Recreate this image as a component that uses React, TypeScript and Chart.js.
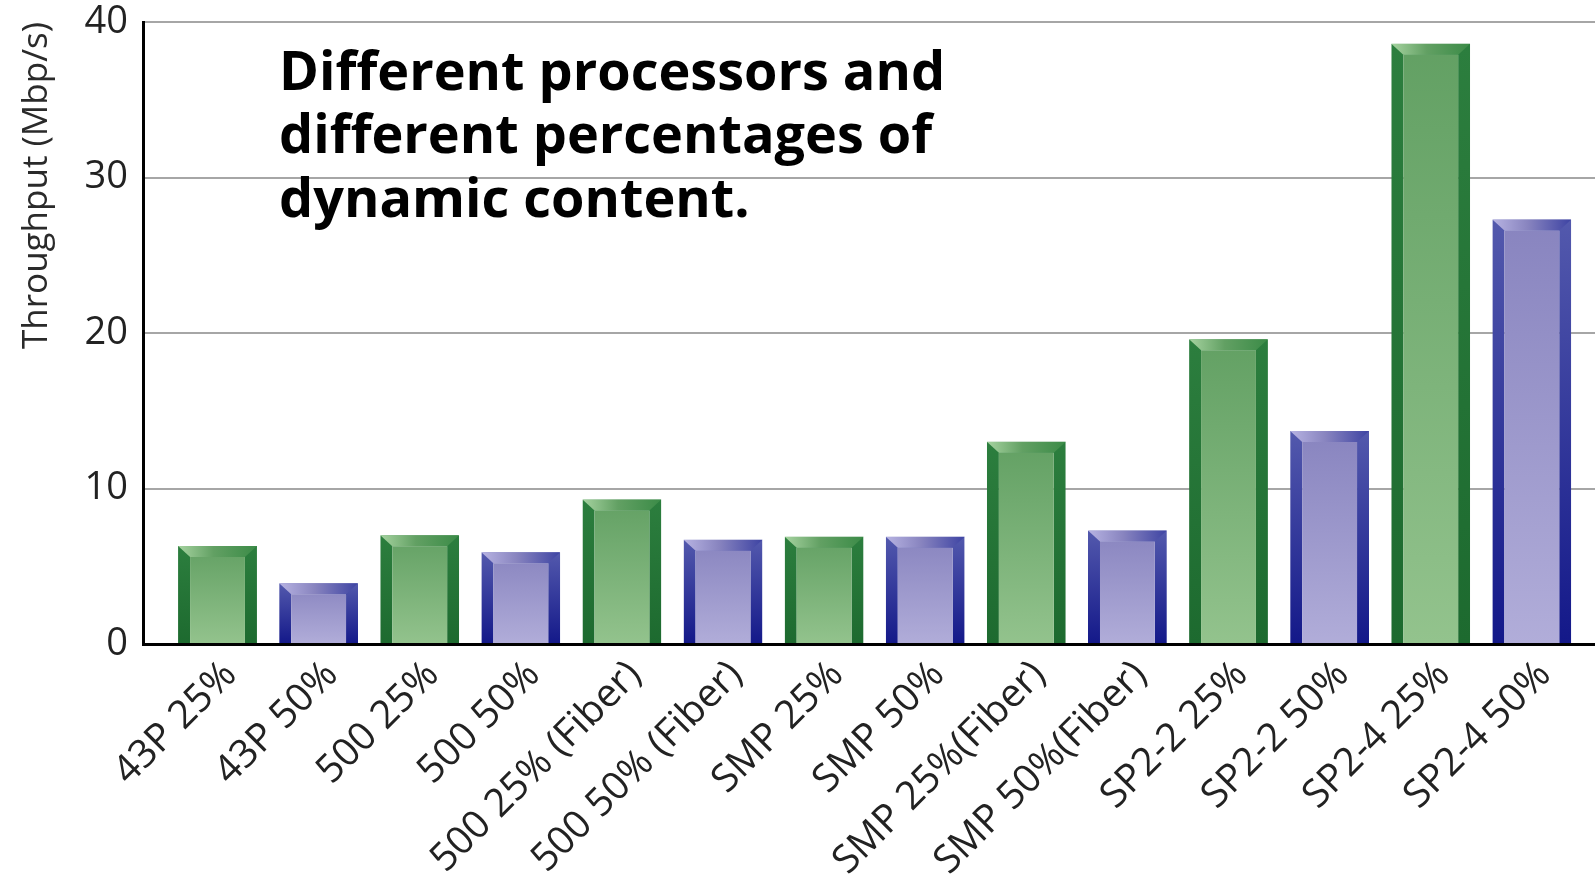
import React, { useEffect, useRef } from 'react';
import { Chart, registerables } from 'chart.js';

Chart.register(...registerables);

// ---- data ----
const categories = [
  '43P 25%', '43P 50%', '500 25%', '500 50%', '500 25% (Fiber)', '500 50% (Fiber)',
  'SMP 25%', 'SMP 50%', 'SMP 25%(Fiber)', 'SMP 50%(Fiber)',
  'SP2-2 25%', 'SP2-2 50%', 'SP2-4 25%', 'SP2-4 50%',
];
const throughput = [6.3, 3.9, 7.0, 5.9, 9.3, 6.7, 6.9, 6.9, 13.0, 7.3, 19.6, 13.7, 38.6, 27.3];
const yTickStep = 10;
const yMin = 0;
const yMax = 40;
const yAxisTitle = 'Throughput (Mbp/s)';
const titleLines = ['Different processors and', 'different percentages of', 'dynamic content.'];

// ---- styles ----
const W = 1595;
const H = 879;
const axisFont = '"Open Sans", "Liberation Sans", sans-serif';
const SIDE = 12;
const BEVEL = 11;

const greenPal = {
  sideTop: '#2c7e3e', sideBottom: '#1d6a2f',
  fillTop: '#62a063', fillBottom: '#93c38d',
  bevelLeft: '#a6d3a0', bevelRight: '#3b8b47',
};
const bluePal = {
  sideTop: '#5359ad', sideBottom: '#131889',
  fillTop: '#8884bf', fillBottom: '#b1add9',
  bevelLeft: '#b7b3e2', bevelRight: '#3d43a3',
};
const palFor = (i: number) => (categories[i] && categories[i].includes('25%') ? greenPal : bluePal);

function barGradient(ctx: any, kind: 'fill' | 'side') {
  const chart = ctx.chart;
  const i = ctx.dataIndex;
  if (i === undefined || !chart.chartArea || !chart.scales.y) {
    const p = palFor(i ?? 0);
    return kind === 'fill' ? p.fillBottom : p.sideBottom;
  }
  const p = palFor(i);
  const ys = chart.scales.y;
  const top = ys.getPixelForValue(throughput[i]);
  const bottom = ys.getPixelForValue(0);
  const g = chart.ctx.createLinearGradient(0, top, 0, bottom);
  if (kind === 'fill') {
    g.addColorStop(0, p.fillTop);
    g.addColorStop(1, p.fillBottom);
  } else {
    g.addColorStop(0, p.sideTop);
    g.addColorStop(1, p.sideBottom);
  }
  return g;
}

const bevelPlugin = {
  id: 'bevelTop',
  afterDatasetsDraw(chart: any) {
    const meta = chart.getDatasetMeta(0);
    const c = chart.ctx;
    c.save();
    meta.data.forEach((bar: any, i: number) => {
      const { x, y, width } = bar.getProps(['x', 'y', 'width'], true);
      const l = x - width / 2;
      const r = x + width / 2;
      const p = palFor(i);
      const g = c.createLinearGradient(l, 0, r, 0);
      g.addColorStop(0, p.bevelLeft);
      g.addColorStop(0.45, p.fillTop);
      g.addColorStop(1, p.bevelRight);
      c.fillStyle = g;
      c.beginPath();
      c.moveTo(l, y);
      c.lineTo(r, y);
      c.lineTo(r - SIDE, y + BEVEL);
      c.lineTo(l + SIDE, y + BEVEL);
      c.closePath();
      c.fill();
    });
    c.restore();
  },
};

const titlePlugin = {
  id: 'overlayTitle',
  afterDraw(chart: any) {
    const c = chart.ctx;
    c.save();
    c.font = '700 54px "Open Sans", "Noto Sans", sans-serif';
    c.fillStyle = '#000';
    c.textAlign = 'left';
    c.textBaseline = 'alphabetic';
    titleLines.forEach((t, i) => c.fillText(t, 279, 89.5 + i * 63.5));
    c.restore();
  },
};

export default function App() {
  const ref = useRef<HTMLCanvasElement | null>(null);

  useEffect(() => {
    document.body.style.margin = '0';
    const canvas = ref.current;
    if (!canvas) return;
    const chart = new Chart(canvas, {
      type: 'bar',
      data: {
        datasets: [
          {
            label: yAxisTitle,
            data: throughput.map((v, i) => ({ x: i, y: v })),
            backgroundColor: (ctx: any) => barGradient(ctx, 'fill'),
            borderColor: (ctx: any) => barGradient(ctx, 'side'),
            borderWidth: { top: BEVEL, left: SIDE, right: SIDE, bottom: 0 },
            borderSkipped: 'start',
            categoryPercentage: 1,
            barPercentage: 0.78,
          } as any,
        ],
      },
      options: {
        responsive: false,
        devicePixelRatio: 1,
        animation: false,
        layout: { padding: { top: 22, right: 0, bottom: 0, left: 0 } },
        plugins: {
          legend: { display: false },
          tooltip: { enabled: false },
          title: { display: false },
        },
        scales: {
          x: {
            type: 'linear',
            offset: false,
            min: -0.737,
            max: 13.625,
            z: 1,
            grid: { display: false, offset: false, drawTicks: true, tickLength: 8 },
            border: { display: true, color: '#000', width: 3 },
            ticks: {
              stepSize: 1,
              autoSkip: false,
              includeBounds: false,
              maxRotation: 45,
              minRotation: 45,
              padding: 0,
              labelOffset: 13,
              color: '#222',
              font: { family: axisFont, size: 39 },
              callback: (v: any) => (Number.isInteger(v) && categories[v] !== undefined ? categories[v] : ''),
            },
            afterFit: (s: any) => {
              s.height = H - 644;
              s.paddingLeft = 0;
              s.paddingRight = 0;
            },
          } as any,
          y: {
            type: 'linear',
            min: yMin,
            max: yMax,
            grid: { color: '#a6a6a6', lineWidth: 2, drawTicks: false },
            border: { display: true, color: '#000', width: 3 },
            ticks: {
              stepSize: yTickStep,
              padding: 15,
              color: '#222',
              font: { family: axisFont, size: 38 },
            },
            title: {
              display: true,
              text: yAxisTitle,
              align: 'end',
              color: '#2a2a2a',
              font: { family: axisFont, size: 35 },
              padding: { top: 16, bottom: 0 },
            },
            afterFit: (s: any) => {
              s.width = 143;
              s.paddingTop = 0;
              s.paddingBottom = 0;
            },
          } as any,
        },
      },
      plugins: [bevelPlugin, titlePlugin],
    });
    return () => chart.destroy();
  }, []);

  return (
    <canvas
      ref={ref}
      width={W}
      height={H}
      style={{ position: 'fixed', left: 0, top: 0, width: W, height: H, background: '#fff' }}
    />
  );
}
